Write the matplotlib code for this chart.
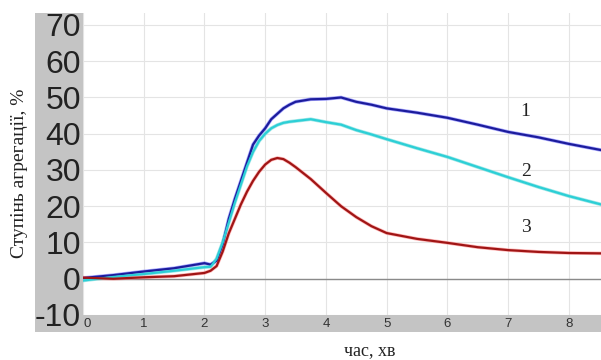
import matplotlib.pyplot as plt
from matplotlib.patches import Rectangle

time = [0, 0.5, 1, 1.5, 2.0, 2.1, 2.2, 2.3, 2.4, 2.5, 2.6, 2.7, 2.8, 2.9, 3.0,
        3.1, 3.2, 3.3, 3.4, 3.5, 3.75, 4.0, 4.25, 4.5, 4.75, 5, 5.5, 6, 6.5,
        7, 7.5, 8, 8.53]
curve1 = [0.2, 1.0, 2.0, 2.9, 4.3, 3.9, 5.0, 9.5, 16.5, 22, 27, 32, 37, 39.5,
          41.5, 44, 45.5, 47, 48, 48.8, 49.5, 49.6, 50, 48.8, 48, 47, 45.8,
          44.4, 42.5, 40.5, 39, 37.2, 35.5]
curve2 = [-0.5, 0.5, 1.3, 2.2, 3.2, 3.3, 5.5, 10, 15.5, 21, 26, 31, 35, 38, 40,
          41.5, 42.4, 43, 43.3, 43.5, 44, 43.2, 42.5, 41, 39.8, 38.5, 36, 33.6,
          30.8, 28, 25.3, 22.8, 20.5]
curve3 = [0.3, 0.0, 0.4, 0.7, 1.6, 2.2, 3.5, 7.5, 12.5, 16.5, 20.5, 24, 27,
          29.5, 31.5, 32.8, 33.3, 33, 32, 30.8, 27.5, 23.7, 20, 17, 14.5, 12.6,
          11, 9.9, 8.7, 7.9, 7.4, 7.1, 7.0]

curve_labels = ['1', '2', '3']
label_pos = [(7.28, 46), (7.3, 29.5), (7.3, 14)]

yticks = [-10, 0, 10, 20, 30, 40, 50, 60, 70]
xticks = [0, 1, 2, 3, 4, 5, 6, 7, 8]

fig = plt.figure(figsize=(6.01, 3.6), dpi=100)

# gray frame panels (left and bottom)
gray = '#c4c4c4'
fig.patches.append(Rectangle((35 / 601, (360 - 332) / 360), (83 - 35) / 601,
                             (332 - 13) / 360, transform=fig.transFigure,
                             facecolor=gray, edgecolor='none', zorder=-1))
fig.patches.append(Rectangle((35 / 601, (360 - 332) / 360), 1 - 35 / 601,
                             17 / 360, transform=fig.transFigure,
                             facecolor=gray, edgecolor='none', zorder=-1))

ax = fig.add_axes([83 / 601, 45 / 360, 1 - 83 / 601, (315 - 13) / 360])
ax.set_xlim(0, 8.53)
ax.set_ylim(-10, 73.3)

for v in yticks:
    ax.axhline(v, color='#e4e4e4', linewidth=0.8, zorder=1)
for v in xticks:
    ax.axvline(v, color='#e4e4e4', linewidth=0.8, zorder=1)
ax.axhline(0, color='#8a8a8a', linewidth=1.0, zorder=2)

ax.plot(time, curve1, color='#7070ff', linewidth=2.6, alpha=0.6, zorder=3)
ax.plot(time, curve1, color='#1c1c9c', linewidth=1.6, zorder=4)
ax.plot(time, curve2, color='#7adede', linewidth=2.6, alpha=0.7, zorder=3)
ax.plot(time, curve2, color='#2ccfd6', linewidth=1.6, zorder=4)
ax.plot(time, curve3, color='#ff8a8a', linewidth=2.6, alpha=0.6, zorder=3)
ax.plot(time, curve3, color='#a01515', linewidth=1.6, zorder=4)

for lab, (x, y) in zip(curve_labels, label_pos):
    ax.text(x, y, lab, family='Liberation Serif', fontsize=14, color='#222222',
            ha='center', va='center')

ax.set_xticks(xticks)
ax.set_yticks(yticks)
ax.set_xticklabels([str(v) for v in xticks], family='Liberation Sans',
                   fontsize=9.5, color='#333333')
ax.get_xticklabels()[0].set_horizontalalignment('left')
ax.set_yticklabels([str(v) for v in yticks], family='Liberation Sans',
                   fontsize=23, color='#222222')
ax.tick_params(axis='both', length=0)
ax.tick_params(axis='x', pad=2.5)
ax.tick_params(axis='y', pad=1.5)
for s in ax.spines.values():
    s.set_visible(False)

fig.text(20 / 601, (360 - 173) / 360, 'Ступінь агрегації, %',
         family='Liberation Serif', fontsize=14, rotation=90, ha='center',
         va='center', color='#222222')
fig.text(370 / 601, 1 / 360, 'час, хв', family='Liberation Serif',
         fontsize=13, ha='center', va='bottom', color='#222222')

fig.savefig('out.png', dpi=100)
